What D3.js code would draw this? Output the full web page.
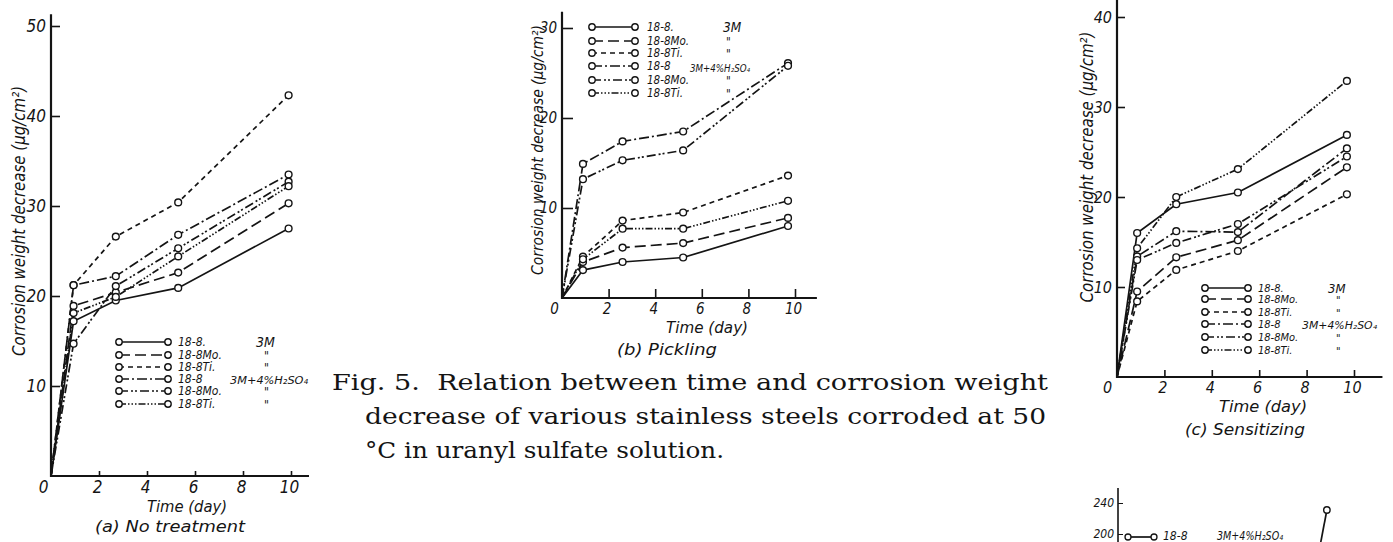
<!DOCTYPE html>
<html><head><meta charset="utf-8">
<script src="https://cdn.jsdelivr.net/npm/d3@7"></script>
<style>
body{margin:0;background:#fff;}
svg{display:block;background:#fff;}
text{font-family:"DejaVu Sans Condensed","DejaVu Sans",sans-serif;font-style:oblique;fill:#141414;}
text.cap{font-family:"DejaVu Serif",serif;font-style:normal;white-space:pre;}
</style></head><body>
<svg id="c" width="1393" height="542"></svg>
<script>
// ---------------- data ----------------
const steelGrades = ["18-8.", "18-8Mo.", "18-8Ti.", "18-8", "18-8Mo.", "18-8Ti."];
const solutions   = ["3M", "\"", "\"", "3M+4%H₂SO₄", "\"", "\""];
const xTickValues = [0, 2, 4, 6, 8, 10];
const yTicksA = [10, 20, 30, 40, 50];
const yTicksB = [10, 20, 30];
const yTicksC = [10, 20, 30, 40];
const yTicksD = [200, 240];

// (a) No treatment   rows: 18-8 3M, 18-8Mo 3M, 18-8Ti 3M, 18-8 +H2SO4, 18-8Mo +H2SO4, 18-8Ti +H2SO4
const daysA = [0, 0.94, 2.7, 5.3, 9.9];
const noTreatment = [
  [0, 17.2, 19.5, 20.9, 27.5],
  [0, 18.9, 20.4, 22.6, 30.3],
  [0, 21.2, 26.6, 30.4, 42.3],
  [0, 21.2, 22.2, 26.8, 33.5],
  [0, 14.7, 21.1, 25.3, 32.7],
  [0, 18.1, 19.9, 24.4, 32.2]
];
// (b) Pickling
const daysB = [0, 0.9, 2.6, 5.2, 9.7];
const pickling = [
  [0, 3.1, 4.0, 4.5, 8.0],
  [0, 4.0, 5.6, 6.1, 8.9],
  [0, 4.6, 8.6, 9.5, 13.6],
  [0, 14.9, 17.4, 18.5, 26.1],
  [0, 13.2, 15.3, 16.4, 25.8],
  [0, 4.3, 7.7, 7.7, 10.8]
];
// (c) Sensitizing
const daysC = [0, 0.85, 2.5, 5.1, 9.7];
const sensitizing = [
  [0, 16.0, 19.2, 20.5, 26.9],
  [0, 9.5, 13.3, 15.2, 23.3],
  [0, 8.4, 11.9, 14.0, 20.3],
  [0, 13.4, 16.2, 16.1, 25.4],
  [0, 13.0, 14.9, 17.0, 24.5],
  [0, 14.3, 20.0, 23.1, 32.9]
];
// (d) partially visible next figure
const daysD = [9.4, 9.8];
const partialD = [175, 231];

const captionLines = [
  "Fig. 5.  Relation between time and corrosion weight",
  "decrease of various stainless steels corroded at 50",
  "°C in uranyl sulfate solution."
];
const panelTitles = ["(a)  No treatment", "(b)  Pickling", "(c)  Sensitizing"];
const xTitle = "Time (day)";
const yTitle = "Corrosion weight decrease (μg/cm²)";

// ---------------- styles ----------------
const INK = "#141414";
const dashes = [null, "11,5", "5,4", "10,3,2,3", "9,3,2,2,2,3", "7,2,1.5,2,1.5,2,1.5,2"];

const svg = d3.select("#c");

function label(g, x, y, s, size, opts = {}) {
  const t = g.append("text").attr("x", x).attr("y", y).attr("font-size", size)
    .attr("dominant-baseline", "central").attr("text-anchor", opts.anchor || "start").text(s);
  if (opts.len) t.attr("textLength", opts.len).attr("lengthAdjust", "spacingAndGlyphs");
  if (opts.rot) t.attr("transform", `rotate(-90,${x},${y})`);
  return t;
}

function drawPanel(cfg) {
  const g = svg.append("g");
  const x = d3.scaleLinear().domain([0, 10]).range(cfg.xr);
  const y = d3.scaleLinear().domain([0, cfg.yMax]).range(cfg.yr);

  // axis lines
  g.append("line").attr("x1", x(0)).attr("x2", x(0)).attr("y1", y(0) + 1).attr("y2", y(cfg.yAxisEnd))
    .attr("stroke", INK).attr("stroke-width", 2.2);
  g.append("line").attr("x1", x(0) - 1).attr("x2", x(cfg.xAxisEnd)).attr("y1", y(0)).attr("y2", y(0))
    .attr("stroke", INK).attr("stroke-width", 2.2);

  // y axis
  const ya = d3.axisLeft(y).tickValues(cfg.yTicks).tickFormat(d3.format("d"))
    .tickSize(-cfg.yTickLen).tickPadding(5);
  const yg = g.append("g").attr("transform", `translate(${x(0)},0)`).call(ya)
    .attr("font-family", null).attr("font-size", null);
  yg.select(".domain").remove();
  yg.selectAll("line").attr("stroke", INK).attr("stroke-width", 1.6);
  yg.selectAll("text").attr("font-size", cfg.tickFont).attr("fill", INK);

  // x axis
  const xa = d3.axisBottom(x).tickValues(xTickValues).tickFormat(d3.format("d"))
    .tickSize(-cfg.xTickLen).tickPadding(cfg.xPad);
  const xg = g.append("g").attr("transform", `translate(0,${y(0)})`).call(xa)
    .attr("font-family", null).attr("font-size", null);
  xg.select(".domain").remove();
  xg.selectAll("line").attr("stroke", INK).attr("stroke-width", 1.6)
    .attr("display", d => d === 0 ? "none" : null);
  xg.selectAll("text").attr("font-size", cfg.tickFont).attr("fill", INK)
    .attr("dx", d => d === 0 ? cfg.zeroDx : -2);

  // titles
  label(g, cfg.xTitle[0], cfg.xTitle[1], xTitle, cfg.titleFont, {anchor: "middle", len: cfg.xTitle[2]});
  label(g, cfg.sub[0], cfg.sub[1], cfg.subText, cfg.titleFont - 1, {anchor: "middle", len: cfg.sub[2]});
  label(g, cfg.yTitle[0], cfg.yTitle[1], yTitle, cfg.yTitleFont, {anchor: "middle", len: cfg.yTitle[2], rot: true});

  // series
  const line = d3.line().x(d => x(d[0])).y(d => y(d[1]));
  const series = cfg.vals.map(v => cfg.days.map((d, j) => [d, v[j]]));
  series.forEach((pts, i) => {
    g.append("path").attr("d", line(pts)).attr("fill", "none").attr("stroke", INK)
      .attr("stroke-width", 1.7).attr("stroke-dasharray", dashes[i]);
  });
  series.forEach(pts => {
    g.selectAll(null).data(pts.slice(1)).join("circle")
      .attr("cx", d => x(d[0])).attr("cy", d => y(d[1])).attr("r", 3.4)
      .attr("fill", "#fff").attr("stroke", INK).attr("stroke-width", 1.4);
  });

  // legend
  const L = cfg.legend;
  steelGrades.forEach((s, i) => {
    const yy = L.rows[i];
    g.append("line").attr("x1", L.x0).attr("x2", L.x1).attr("y1", yy).attr("y2", yy)
      .attr("stroke", INK).attr("stroke-width", 1.7).attr("stroke-dasharray", dashes[i]);
    [L.x0, L.x1].forEach(cx => g.append("circle").attr("cx", cx).attr("cy", yy).attr("r", 3.2)
      .attr("fill", "#fff").attr("stroke", INK).attr("stroke-width", 1.4));
    label(g, L.tx, yy, s, L.font);
    const sol = solutions[i];
    if (sol === "3M") label(g, L.m3, yy, sol, L.font + 2);
    else if (sol === "\"") label(g, L.ditto, yy + 1, sol, L.font);
    else label(g, L.acid[0], L.acid[1], sol, L.font - 1, {len: L.acid[2]});
  });
}

drawPanel({
  days: daysA, vals: noTreatment, yMax: 50, yTicks: yTicksA,
  xr: [51, 291], yr: [476, 26], xAxisEnd: 10.75, yAxisEnd: 51.3,
  yTickLen: 9, xTickLen: 5, xPad: 5, zeroDx: -8, tickFont: 17, titleFont: 16, yTitleFont: 17,
  xTitle: [187, 506, 80], sub: [170, 527, 150], subText: panelTitles[0], yTitle: [19, 221, 270],
  legend: {rows: [342, 355, 367, 379, 391, 404], x0: 119, x1: 168, tx: 178, font: 12,
           m3: 256, ditto: 264, acid: [230, 380, 78]}
});
drawPanel({
  days: daysB, vals: pickling, yMax: 30, yTicks: yTicksB,
  xr: [562, 795], yr: [298, 28], xAxisEnd: 10.94, yAxisEnd: 31.8,
  yTickLen: 11, xTickLen: 9, xPad: 5, zeroDx: -8, tickFont: 15, titleFont: 16, yTitleFont: 16,
  xTitle: [707, 327, 82], sub: [667, 350, 100], subText: panelTitles[1], yTitle: [537, 150, 250],
  legend: {rows: [27, 41, 53, 66, 80, 93], x0: 592, x1: 635, tx: 647, font: 11.5,
           m3: 723, ditto: 726, acid: [690, 68, 60]}
});
drawPanel({
  days: daysC, vals: sensitizing, yMax: 40, yTicks: yTicksC,
  xr: [1117, 1354], yr: [377, 17], xAxisEnd: 11.2, yAxisEnd: 41.9,
  yTickLen: 8, xTickLen: 7, xPad: 5, zeroDx: -10, tickFont: 16, titleFont: 16, yTitleFont: 17,
  xTitle: [1263, 406, 88], sub: [1245, 430, 120], subText: panelTitles[2], yTitle: [1087, 167, 271],
  legend: {rows: [288, 299, 312, 324, 337, 350], x0: 1205, x1: 1248, tx: 1258, font: 11,
           m3: 1328, ditto: 1336, acid: [1302, 325, 75]}
});

// partially visible figure at bottom right
(function () {
  const g = svg.append("g");
  const x = d3.scaleLinear().domain([0, 10]).range([1125, 1331]);
  const y = d3.scaleLinear().domain([200, 240]).range([534, 503]);
  g.append("line").attr("x1", 1118).attr("x2", 1118).attr("y1", 488).attr("y2", 542)
    .attr("stroke", INK).attr("stroke-width", 1.6);
  const ya = d3.axisLeft(y).tickValues(yTicksD).tickFormat(d3.format("d")).tickSize(-5).tickPadding(4);
  const yg = g.append("g").attr("transform", "translate(1118,0)").call(ya)
    .attr("font-family", null).attr("font-size", null);
  yg.select(".domain").remove();
  yg.selectAll("line").attr("stroke", INK);
  yg.selectAll("text").attr("font-size", 12).attr("fill", INK);
  const pts = daysD.map((d, i) => [d, partialD[i]]);
  g.append("path").attr("d", d3.line().x(d => x(d[0])).y(d => y(d[1]))(pts))
    .attr("fill", "none").attr("stroke", INK).attr("stroke-width", 1.7);
  g.append("circle").attr("cx", x(pts[1][0])).attr("cy", y(pts[1][1])).attr("r", 3.2)
    .attr("fill", "#fff").attr("stroke", INK).attr("stroke-width", 1.4);
  // legend row of that figure
  g.append("line").attr("x1", 1128).attr("x2", 1154).attr("y1", 537).attr("y2", 537)
    .attr("stroke", INK).attr("stroke-width", 1.7);
  [1128, 1154].forEach(cx => g.append("circle").attr("cx", cx).attr("cy", 537).attr("r", 3)
    .attr("fill", "#fff").attr("stroke", INK).attr("stroke-width", 1.3));
  label(g, 1163, 536, "18-8", 12);
  label(g, 1217, 536, "3M+4%H₂SO₄", 12, {len: 66});
})();

// caption
const capG = svg.append("g");
const capPos = [[332, 382, 716], [365, 416, 681], [365, 450, 359]];
captionLines.forEach((s, i) => {
  capG.append("text").attr("class", "cap").attr("x", capPos[i][0]).attr("y", capPos[i][1])
    .attr("font-size", 22).attr("dominant-baseline", "central")
    .attr("textLength", capPos[i][2]).attr("lengthAdjust", "spacingAndGlyphs").text(s);
});
</script>
</body></html>
